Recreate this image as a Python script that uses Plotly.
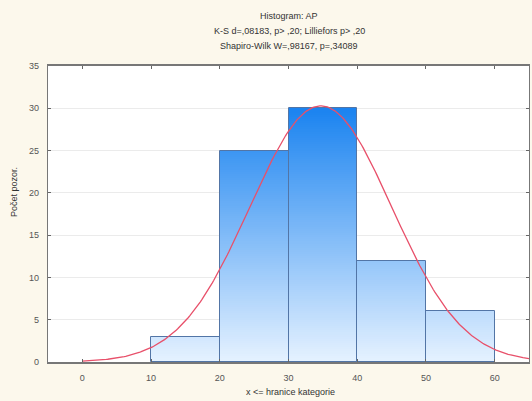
import numpy as np
import plotly.graph_objects as go

# ---- data ----
bin_lefts = [0, 10, 20, 30, 40, 50]
bin_width = 10
counts = [0, 3, 25, 30, 12, 6]

# fitted normal curve parameters (expected counts = area * pdf)
fit_mean = 34.7
fit_sd = 10.3
fit_area = 782.0

title_lines = [
    "Histogram: AP",
    "K-S d=,08183, p> ,20; Lilliefors p> ,20",
    "Shapiro-Wilk W=,98167, p=,34089",
]
x_title = "x <= hranice kategorie"
y_title = "Počet pozor."
x_ticks = [0, 10, 20, 30, 40, 50, 60]
y_ticks = [0, 5, 10, 15, 20, 25, 30, 35]

FONT = "Liberation Sans, Arial, sans-serif"
W, H = 532, 401
ML, MR, MT, MB = 48, 3, 66, 39
PH = H - MT - MB
PW = W - ML - MR

def py(p):  # pixel row -> paper y
    return (H - MB - p) / PH

def px(p):  # pixel column -> paper x
    return (p - ML) / PW

# ---- gradient fill: heatmap masked below each bar's height ----
centers = [b + bin_width / 2 for b in bin_lefts]
step = 0.25
ys = np.arange(step / 2, 35, step)
z = []
for yv in ys:
    row = []
    for c in counts:
        row.append(float(yv) if yv < c else None)
    z.append(row)

fig = go.Figure()
fig.add_trace(go.Heatmap(
    x=centers, y=ys, z=z,
    zmin=0, zmax=30,
    colorscale=[[0, "#e6f2ff"], [1, "#1a83f0"]],
    showscale=False, hoverinfo="skip",
))

# bar outlines
nz = [(c, v) for c, v in zip(centers, counts) if v > 0]
fig.add_trace(go.Bar(
    x=[c for c, _ in nz], y=[v for _, v in nz], width=bin_width,
    marker=dict(color="rgba(0,0,0,0)", line=dict(color="#5275a6", width=1)),
    hoverinfo="x+y",
))

# normal curve
xc = np.linspace(0, 65, 300)
yc = fit_area * np.exp(-0.5 * ((xc - fit_mean) / fit_sd) ** 2) / (fit_sd * np.sqrt(2 * np.pi))
fig.add_trace(go.Scatter(
    x=xc, y=yc, mode="lines",
    line=dict(color="#e8506a", width=1.3), hoverinfo="skip",
))

annotations = []
for i, line in enumerate(title_lines):
    annotations.append(dict(
        text=line, xref="paper", yref="paper",
        x=px(289), y=py(16 + 15 * i), xanchor="center", yanchor="middle",
        showarrow=False, font=dict(family=FONT, size=9, color="#333333"),
    ))
annotations.append(dict(
    text=x_title, xref="paper", yref="paper",
    x=px(290), y=py(392), xanchor="center", yanchor="middle",
    showarrow=False, font=dict(family=FONT, size=9, color="#333333"),
))
annotations.append(dict(
    text=y_title, xref="paper", yref="paper", textangle=-90,
    x=px(14), y=py(192), xanchor="center", yanchor="middle",
    showarrow=False, font=dict(family=FONT, size=9, color="#333333"),
))

fig.update_layout(
    width=W, height=H,
    margin=dict(l=ML, r=MR, t=MT, b=MB),
    paper_bgcolor="#fcf8ec",
    plot_bgcolor="#ffffff",
    showlegend=False,
    bargap=0,
    font=dict(family=FONT, size=9, color="#555555"),
    annotations=annotations,
)
fig.update_xaxes(
    range=[-5, 65], tickvals=x_ticks, ticks="inside", ticklen=3,
    tickcolor="#666666", showgrid=False, zeroline=False,
    showline=True, linecolor="#777777", linewidth=1.5, mirror="ticks",
    ticklabelstandoff=6,
)
fig.update_yaxes(
    range=[0, 35], tickvals=y_ticks, ticks="inside", ticklen=3,
    tickcolor="#666666", showgrid=True, gridcolor="#ebebeb", gridwidth=1,
    zeroline=False,
    showline=True, linecolor="#777777", linewidth=1.2, mirror="ticks",
    ticklabelstandoff=6,
)

fig.write_html("out.html")
